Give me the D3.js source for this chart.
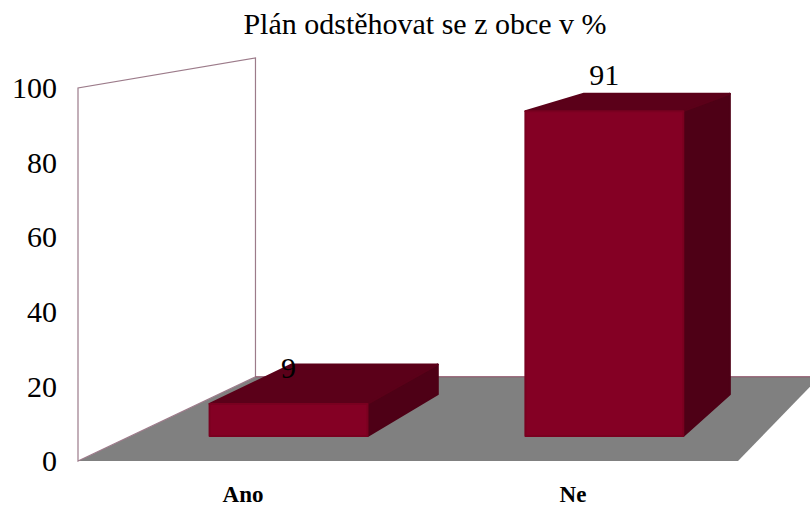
<!DOCTYPE html>
<html>
<head>
<meta charset="utf-8">
<script src="https://cdn.jsdelivr.net/npm/d3@7"></script>
</head>
<body style="margin:0">
<script>
// data
var title = "Plán odstěhovat se z obce v %";
var categories = ["Ano", "Ne"];
var values = [9, 91];
var yTicks = [0, 20, 40, 60, 80, 100];

var width = 810, height = 506;
var serif = "Liberation Serif";

// front plane of the 3d box
var x = d3.scaleBand().domain(categories).range([78, 738]).paddingInner(0.5).paddingOuter(0.25);
var y = d3.scaleLinear().domain([0, 100]).range([461, 88]);

// simple perspective: points slide toward a vanishing point with depth t
var vp = [1302, -120];
var tBack = 0.145, tBar0 = 0.043, tBar1 = 0.115;
function P(px, py, t) { return [px + t * (vp[0] - px), py + t * (vp[1] - py)]; }
function pts(a) { return a.map(function(p) { return p.join(","); }).join(" "); }

var svg = d3.select("body").append("svg").attr("width", width).attr("height", height)
  .attr("font-family", serif).style("display", "block");

var x0 = x.range()[0], x1 = x.range()[1];
var yb = y(0), yt = y(100);

// floor
svg.append("polygon")
  .attr("points", pts([P(x0, yb, 0), P(x1, yb, 0), P(x1, yb, tBack), P(x0, yb, tBack)]))
  .style("fill", "#808080");

// side wall
svg.append("polygon")
  .attr("points", pts([P(x0, yb, 0), P(x0, yt, 0), P(x0, yt, tBack), P(x0, yb, tBack)]))
  .style("fill", "#fff").style("stroke", "#9c7b8a").style("stroke-width", 1.2);

// back edge of floor
svg.append("line")
  .attr("x1", P(x0, yb, tBack)[0]).attr("y1", P(x0, yb, tBack)[1])
  .attr("x2", P(x1, yb, tBack)[0]).attr("y2", P(x1, yb, tBack)[1])
  .style("stroke", "#8a4a62").style("stroke-width", 1.2);

// bars
var bars = svg.selectAll("g.bar").data(categories).enter().append("g").attr("class", "bar");

function faces(c, i) {
  var a = x(c), b = a + x.bandwidth(), top = y(values[i]);
  return {
    side: [P(b, top, tBar0), P(b, top, tBar1), P(b, yb, tBar1), P(b, yb, tBar0)],
    top: [P(a, top, tBar0), P(b, top, tBar0), P(b, top, tBar1), P(a, top, tBar1)],
    front: [P(a, top, tBar0), P(b, top, tBar0), P(b, yb, tBar0), P(a, yb, tBar0)]
  };
}

bars.append("polygon")
  .attr("points", function(c, i) { return pts(faces(c, i).side); })
  .style("fill", "#4e0016").style("stroke", "#4e0016").style("stroke-width", 2).style("stroke-linejoin", "round");
bars.append("polygon")
  .attr("points", function(c, i) { return pts(faces(c, i).top); })
  .style("fill", "#5b0019").style("stroke", "#5b0019").style("stroke-width", 2).style("stroke-linejoin", "round");
bars.append("polygon")
  .attr("points", function(c, i) { return pts(faces(c, i).front); })
  .style("fill", "#840024").style("stroke", "#7a0020").style("stroke-width", 2).style("stroke-linejoin", "round");

// value labels
bars.append("text")
  .attr("x", function(c) { return P(x(c) + x.bandwidth() / 2, 0, tBar0)[0]; })
  .attr("y", function(c, i) { return P(0, y(values[i]), tBar0)[1] - 26; })
  .attr("text-anchor", "middle")
  .attr("font-family", serif).style("font-family", "'" + serif + "'")
  .style("font-size", "30px").style("fill", "#000")
  .text(function(c, i) { return values[i]; });

// y axis
var yAxis = svg.append("g").attr("transform", "translate(" + x0 + ",0)")
  .call(d3.axisLeft(y).tickValues(yTicks).tickSize(0).tickPadding(21));
yAxis.attr("font-family", serif).attr("font-size", 30);
yAxis.select(".domain").remove();
yAxis.selectAll("text").attr("font-family", serif).style("font-family", "'" + serif + "'")
  .style("font-size", "30px").style("fill", "#000");

// x axis
var xAxis = svg.append("g").attr("transform", "translate(0," + yb + ")")
  .call(d3.axisBottom(x).tickSize(0).tickPadding(25));
xAxis.attr("font-family", serif).attr("font-size", 23);
xAxis.select(".domain").remove();
xAxis.selectAll("text").attr("font-family", serif).style("font-family", "'" + serif + "'")
  .style("font-size", "23px").style("font-weight", "bold").style("fill", "#000");

// title
svg.append("text")
  .attr("x", 425).attr("y", 34)
  .attr("text-anchor", "middle")
  .attr("font-family", serif).style("font-family", "'" + serif + "'")
  .style("font-size", "30px").style("fill", "#000")
  .text(title);
</script>
</body>
</html>
